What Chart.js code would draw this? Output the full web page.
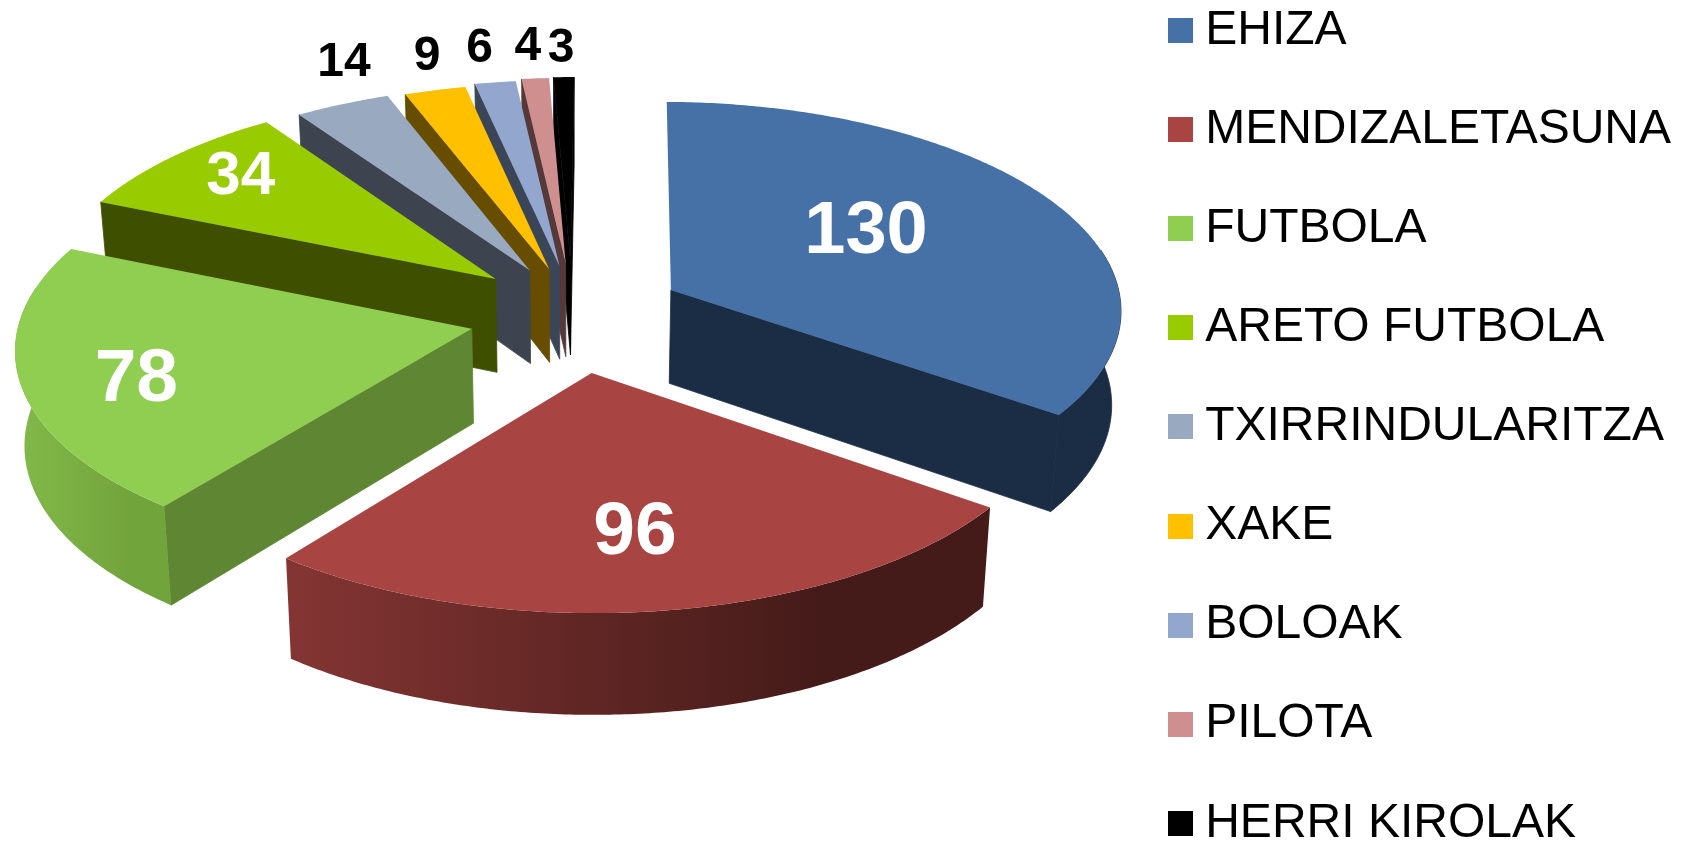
<!DOCTYPE html>
<html>
<head>
<meta charset="utf-8">
<script src="https://cdn.jsdelivr.net/npm/chart.js@4/dist/chart.umd.js"></script>
<style>
  html, body { margin: 0; padding: 0; background: #fff; }
  canvas { display: block; }
</style>
</head>
<body>
<canvas id="chart" width="1686" height="842"></canvas>
<script>
const categories = ['EHIZA', 'MENDIZALETASUNA', 'FUTBOLA', 'ARETO FUTBOLA', 'TXIRRINDULARITZA', 'XAKE', 'BOLOAK', 'PILOTA', 'HERRI KIROLAK'];
const values = [130, 96, 78, 34, 14, 9, 6, 4, 3];

// slice styling
const topColors = ['#4571a6', '#a84543', '#8fce50', '#99cc00', '#99a9bf', '#ffc000', '#93a7ce', '#cf8f8f', '#000000'];
const wallColors = ['#1a2d45', '#451b19', '#5f8733', '#3f4f00', '#3d444f', '#664d00', '#3b4558', '#553838', '#000000'];
const rimLeft = ['#1a2d45', '#843533', '#83ba4a', '#3f4f00', '#3d444f', '#664d00', '#3b4558', '#553838', '#000000'];
const rimRight = ['#1a2d45', '#451b19', '#72a43c', '#3f4f00', '#3d444f', '#664d00', '#3b4558', '#553838', '#000000'];
const explode = [112, 135, 103, 100, 93, 82, 80, 85, 95];
const shiftY = [8, 5, 12, 3, 3, 0, -3, -3, 0];

// label styling
const labelColors = ['#fff', '#fff', '#fff', '#fff', '#000', '#000', '#000', '#000', '#000'];
const labelSizes = [74, 75, 75, 62, 48, 48, 48, 48, 48];
const labelRadius = [0.49, 0.7, 0.74, 0.78, 1.27, 1.27, 1.27, 1.27, 1.27];
const labelNudgeX = [5, -7, -3, 0, 48, 20, 0, 0, -1];
const labelNudgeY = [-13, -1, 12, -6, 0, 10, 11, 14, 17];

// fake 3d view
const squash = 0.46;
const persp = 0.00019;
const depthPersp = 0.00013;
const depth = 94;
const bottomScale = 0.983;

function project(el, X, Y, down) {
  const k = 1 / (1 - persp * Y);
  let x = el.x + X * k;
  let y = el.y + squash * Y * k;
  if (down) {
    x = el.x + (x - el.x) * bottomScale;
    y += depth / (1 - depthPersp * Y);
  }
  return [x, y];
}

function slicePoint(el, i, angle, radius, down) {
  const mid = (el.startAngle + el.endAngle) / 2;
  const X = radius * Math.cos(angle) + explode[i] * Math.cos(mid);
  const Y = radius * Math.sin(angle) + explode[i] * Math.sin(mid);
  const p = project(el, X, Y, down);
  return [p[0], p[1] + shiftY[i]];
}

function fillPoly(ctx, pts, fill, seal) {
  ctx.beginPath();
  pts.forEach((p, n) => n ? ctx.lineTo(p[0], p[1]) : ctx.moveTo(p[0], p[1]));
  ctx.closePath();
  ctx.fillStyle = fill;
  ctx.fill();
  // hides the hairline between two faces of the same colour
  if (seal) {
    ctx.strokeStyle = fill;
    ctx.lineWidth = 0.8;
    ctx.stroke();
  }
}

function arcPoints(el, i, a, b, down) {
  const pts = [];
  const steps = Math.max(2, Math.ceil((b - a) / 0.01));
  for (let n = 0; n <= steps; n++) {
    pts.push(slicePoint(el, i, a + (b - a) * n / steps, el.outerRadius, down));
  }
  return pts;
}

function drawSlice(ctx, el, i) {
  const a = el.startAngle, b = el.endAngle;
  const tipTop = slicePoint(el, i, a, 0, false);
  const tipBottom = slicePoint(el, i, a, 0, true);

  // cut faces, only the ones turned to the viewer
  if (Math.sin(a - Math.PI / 2) > 0) {
    fillPoly(ctx, [tipTop, slicePoint(el, i, a, el.outerRadius, false), slicePoint(el, i, a, el.outerRadius, true), tipBottom], wallColors[i], true);
  }
  if (Math.sin(b + Math.PI / 2) > 0) {
    fillPoly(ctx, [tipTop, slicePoint(el, i, b, el.outerRadius, false), slicePoint(el, i, b, el.outerRadius, true), tipBottom], wallColors[i], true);
  }

  // outer rim, runs a bit past the widest point so the silhouette has no step
  const margin = 0.2;
  const ranges = [[a, b], [a + Math.PI * 2, b + Math.PI * 2]];
  ranges.forEach(([from, to]) => {
    const start = Math.max(from, -margin), end = Math.min(to, Math.PI + margin);
    if (end <= start || end <= 0 || start >= Math.PI) return;
    const upper = arcPoints(el, i, start, end, false);
    const lower = arcPoints(el, i, start, end, true);
    const xs = upper.map(p => p[0]);
    const grad = ctx.createLinearGradient(Math.min(...xs), 0, Math.max(...xs), 0);
    grad.addColorStop(0, rimLeft[i]);
    grad.addColorStop(0.75, rimRight[i]);
    grad.addColorStop(1, rimRight[i]);
    fillPoly(ctx, upper.concat(lower.reverse()), grad, rimLeft[i] === rimRight[i]);
  });

  // top face
  fillPoly(ctx, [tipTop].concat(arcPoints(el, i, a, b, false)), topColors[i], false);
}

const pie3d = {
  id: 'pie3d',
  afterLayout(chart) {
    // legend rows are wider than the default wrap allows, so it is placed by hand
    const legend = chart.legend;
    const pad = legend.options.labels.padding;
    legend.left = 1179.8 - pad;
    legend.right = 1686;
    legend.top = 6.5 - pad;
    legend.bottom = 2000;
    chart.chartArea = { left: 0, top: 0, right: 1144, bottom: 610, width: 1144, height: 610 };
  },
  beforeDatasetDraw(chart) {
    const ctx = chart.ctx;
    const arcs = chart.getDatasetMeta(0).data;
    const order = arcs.map((el, i) => i).sort((p, q) => {
      const depthOf = i => Math.sin((arcs[i].startAngle + arcs[i].endAngle) / 2) * (explode[i] + arcs[i].outerRadius / 2);
      return depthOf(p) - depthOf(q);
    });
    order.forEach(i => drawSlice(ctx, arcs[i], i));

    ctx.save();
    ctx.textAlign = 'center';
    ctx.textBaseline = 'middle';
    arcs.forEach((el, i) => {
      const mid = (el.startAngle + el.endAngle) / 2;
      const p = slicePoint(el, i, mid, el.outerRadius * labelRadius[i], false);
      ctx.font = 'bold ' + labelSizes[i] + 'px "Liberation Sans"';
      ctx.fillStyle = labelColors[i];
      ctx.fillText(String(values[i]), p[0] + labelNudgeX[i], p[1] + labelNudgeY[i]);
    });
    ctx.restore();
    return false;
  }
};

// square swatch as a point style, keeps the text close to the box
function swatch(color) {
  const c = document.createElement('canvas');
  c.width = 25;
  c.height = 25;
  const g = c.getContext('2d');
  g.fillStyle = color;
  g.fillRect(0, 0, 25, 25);
  return c;
}

new Chart(document.getElementById('chart'), {
  type: 'pie',
  data: {
    labels: categories,
    datasets: [{ data: values, backgroundColor: topColors, borderWidth: 0, radius: 452 }]
  },
  plugins: [pie3d],
  options: {
    responsive: false,
    animation: false,
    rotation: 0.5,
    plugins: {
      tooltip: { enabled: false },
      legend: {
        position: 'right',
        align: 'start',
        labels: {
          color: '#000',
          padding: 51.1,
          font: { family: '"Liberation Sans"', size: 48 },
          usePointStyle: true,
          pointStyleWidth: 1.4,
          generateLabels: chart => categories.map((text, i) => ({
            text,
            index: i,
            hidden: false,
            fontColor: '#000',
            fillStyle: topColors[i],
            strokeStyle: topColors[i],
            lineWidth: 0,
            pointStyle: swatch(topColors[i])
          }))
        }
      }
    }
  }
});
</script>
</body>
</html>
